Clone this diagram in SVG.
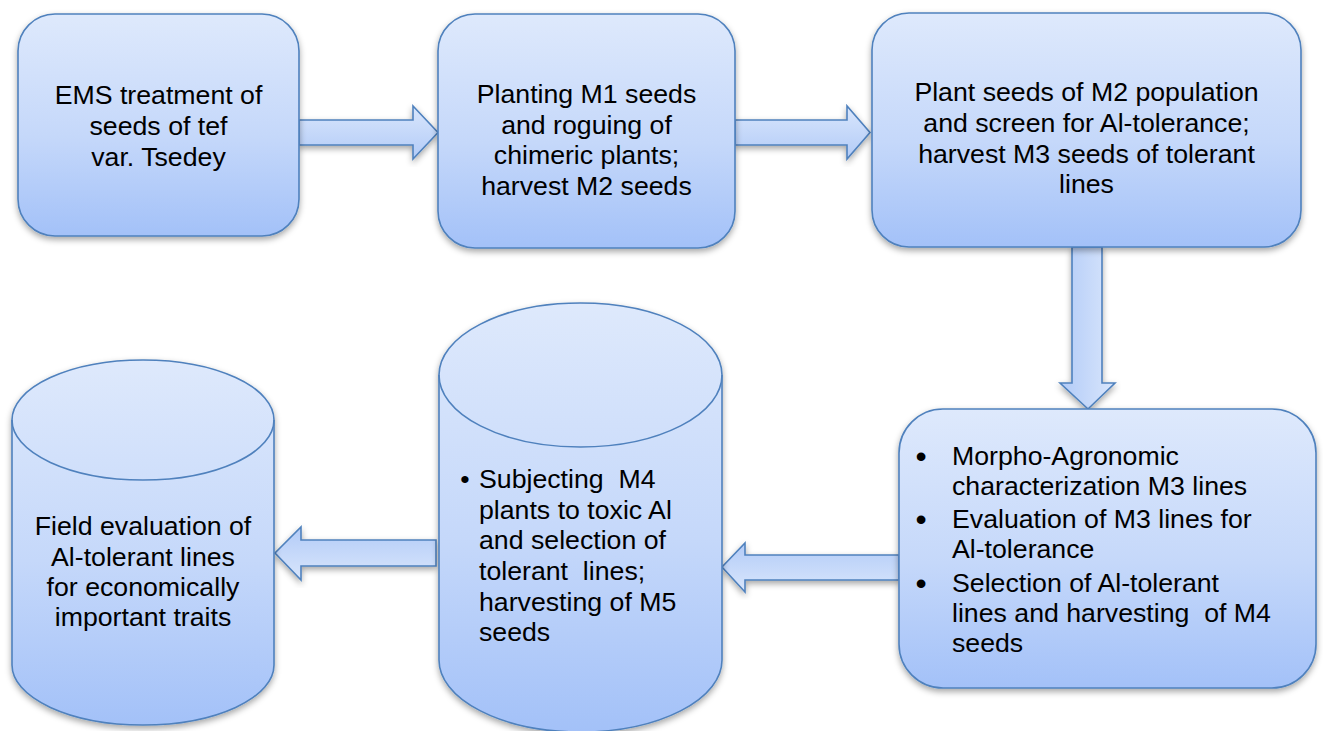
<svg xmlns="http://www.w3.org/2000/svg" width="1323" height="731" viewBox="0 0 1323 731">
  <defs>
    <linearGradient id="gBox" x1="0" y1="0" x2="0" y2="1">
      <stop offset="0" stop-color="#dee9fc"/>
      <stop offset="0.55" stop-color="#c5d8fa"/>
      <stop offset="1" stop-color="#a3c1f8"/>
    </linearGradient>
    <linearGradient id="gArrR" x1="0" y1="0" x2="0" y2="1">
      <stop offset="0" stop-color="#d9e6fc"/>
      <stop offset="1" stop-color="#b2cbf7"/>
    </linearGradient>
    <linearGradient id="gArrL" x1="0" y1="1" x2="0" y2="0">
      <stop offset="0" stop-color="#d9e6fc"/>
      <stop offset="1" stop-color="#b2cbf7"/>
    </linearGradient>
    <linearGradient id="gArrD" x1="1" y1="0" x2="0" y2="0">
      <stop offset="0" stop-color="#d9e6fc"/>
      <stop offset="1" stop-color="#b2cbf7"/>
    </linearGradient>
    <filter id="shadow" x="-10%" y="-10%" width="120%" height="125%">
      <feDropShadow dx="0" dy="3" stdDeviation="3" flood-color="#000" flood-opacity="0.35"/>
    </filter>
  </defs>
  <style>
    .shape { fill: url(#gBox); stroke: #4f81bd; stroke-width: 1.6; filter: url(#shadow); }
    .edge { fill: none; stroke: #4f81bd; stroke-width: 1.6; }
    .arr { stroke: #4f81bd; stroke-width: 1.6; filter: url(#shadow); }
    .t { font-family: "Liberation Sans", Arial, sans-serif; font-size: 26.7px; fill: #000; }
    .b { font-family: "Liberation Sans", Arial, sans-serif; font-size: 32px; fill: #000; }
    .c { text-anchor: middle; }
    .pre { white-space: pre; }
  </style>
  <rect width="1323" height="731" fill="#ffffff"/>

  <g id="connectors">
    <path class="arr" fill="url(#gArrR)" d="M299,120 L413,120 L413,106 L438,132.5 L413,159 L413,145 L299,145 Z"/>
    <path class="arr" fill="url(#gArrR)" d="M735,120 L847,120 L847,106 L870,132.5 L847,159 L847,145 L735,145 Z"/>
    <path class="arr" fill="url(#gArrD)" d="M1072,247 L1102,247 L1102,383 L1115,383 L1088,409 L1060,383 L1072,383 Z"/>
    <path class="arr" fill="url(#gArrL)" d="M899,555 L745,555 L745,543 L722,567 L745,592 L745,580 L899,580 Z"/>
    <path class="arr" fill="url(#gArrL)" d="M436,540 L301,540 L301,527 L275,553 L301,580 L301,566 L436,566 Z"/>
  </g>

  <g id="node-ems">
    <rect class="shape" x="18" y="14" width="281" height="222" rx="37" ry="37"/>
    <text class="t c" x="158.5" y="104">EMS treatment of</text>
    <text class="t c" x="158.5" y="135">seeds of tef</text>
    <text class="t c" x="158.5" y="166">var. Tsedey</text>
  </g>

  <g id="node-m1">
    <rect class="shape" x="438" y="14" width="297" height="234" rx="37" ry="37"/>
    <text class="t c" x="586.5" y="103">Planting M1 seeds</text>
    <text class="t c" x="586.5" y="134">and roguing of</text>
    <text class="t c" x="586.5" y="164">chimeric plants;</text>
    <text class="t c" x="586.5" y="195">harvest M2 seeds</text>
  </g>

  <g id="node-m2">
    <rect class="shape" x="872" y="13" width="429" height="234" rx="37" ry="37"/>
    <text class="t c" x="1086.5" y="101">Plant seeds of M2 population</text>
    <text class="t c" x="1086.5" y="132">and screen for Al-tolerance;</text>
    <text class="t c" x="1086.5" y="163">harvest M3 seeds of tolerant</text>
    <text class="t c" x="1086.5" y="193">lines</text>
  </g>

  <g id="node-m3">
    <rect class="shape" x="899" y="409" width="417" height="279" rx="44" ry="44"/>
    <text class="b c" x="921" y="467">•</text>
    <text class="t" x="952" y="465">Morpho-Agronomic</text>
    <text class="t" x="952" y="495">characterization M3 lines</text>
    <text class="b c" x="921" y="530">•</text>
    <text class="t" x="952" y="528">Evaluation of M3 lines for</text>
    <text class="t" x="952" y="558">Al-tolerance</text>
    <text class="b c" x="921" y="594">•</text>
    <text class="t" x="952" y="592">Selection of Al-tolerant</text>
    <text class="t pre" x="952" y="622" xml:space="preserve">lines and harvesting  of M4</text>
    <text class="t" x="952" y="652">seeds</text>
  </g>

  <g id="node-m4">
    <path class="shape" d="M439,375 L439,660 A141.5,72 0 0 0 722,660 L722,375 A141.5,72 0 0 0 439,375 Z"/>
    <path class="edge" d="M439,375 A141.5,72 0 0 0 722,375"/>
    <text class="t c" x="465" y="488">•</text>
    <text class="t pre" x="479" y="488" xml:space="preserve">Subjecting  M4</text>
    <text class="t" x="479" y="519">plants to toxic Al</text>
    <text class="t" x="479" y="549">and selection of</text>
    <text class="t pre" x="479" y="580" xml:space="preserve">tolerant  lines;</text>
    <text class="t" x="479" y="611">harvesting of M5</text>
    <text class="t" x="479" y="641">seeds</text>
  </g>

  <g id="node-field">
    <path class="shape" d="M12,420 L12,665 A131,60 0 0 0 274,665 L274,420 A131,60 0 0 0 12,420 Z"/>
    <path class="edge" d="M12,420 A131,60 0 0 0 274,420"/>
    <text class="t c" x="143" y="535">Field evaluation of</text>
    <text class="t c" x="143" y="566">Al-tolerant lines</text>
    <text class="t c" x="143" y="596">for economically</text>
    <text class="t c" x="143" y="626">important traits</text>
  </g>
</svg>
